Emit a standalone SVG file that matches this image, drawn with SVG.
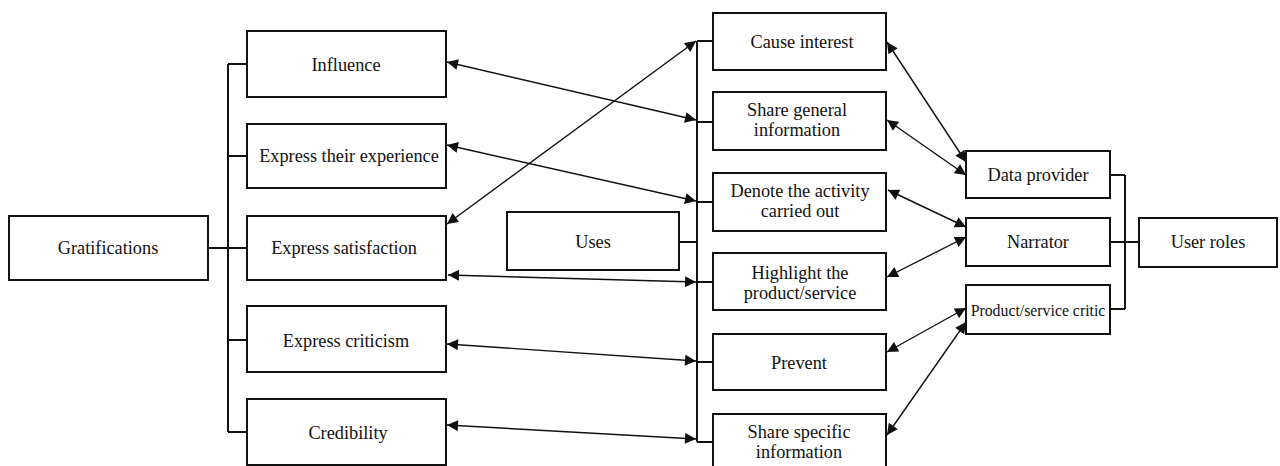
<svg xmlns="http://www.w3.org/2000/svg" width="1280" height="466" viewBox="0 0 1280 466">
<defs>
<style>
.box{fill:#fff;stroke:#111;stroke-width:2}
.t{font-family:"Liberation Serif","Times New Roman",serif;font-size:18.3px;fill:#111;text-anchor:middle;dominant-baseline:central}
.s{font-size:15.8px}
.tree{fill:none;stroke:#111;stroke-width:2}
.arr{fill:none;stroke:#111;stroke-width:1.4;marker-start:url(#ah);marker-end:url(#ah)}
</style>
<marker id="ah" viewBox="0 0 10 10" refX="10" refY="5" markerWidth="14" markerHeight="11" markerUnits="userSpaceOnUse" orient="auto-start-reverse">
<path d="M0,0 L10,5 L0,10 Z" fill="#111"/>
</marker>
</defs>
<rect width="1280" height="466" fill="#fff"/>
<g id="connectors">
<path class="tree" d="M208,248 H228 M228,64 V432 M228,64 H247 M228,156 H247 M228,248 H247 M228,340 H247 M228,432 H247"/>
<path class="tree" d="M679,242 H697 M697,41 V442 M697,41 H713 M697,122 H713 M697,202 H713 M697,282 H713 M697,362 H713 M697,442 H713"/>
<path class="tree" d="M1110,175 H1125 M1110,309 H1125 M1125,175 V309 M1110,242 H1139"/>
<line class="arr" x1="447" y1="62" x2="696" y2="120"/>
<line class="arr" x1="447" y1="145" x2="696" y2="201"/>
<line class="arr" x1="447" y1="224" x2="696" y2="41"/>
<line class="arr" x1="448" y1="275" x2="696" y2="282"/>
<line class="arr" x1="447" y1="344" x2="696" y2="361"/>
<line class="arr" x1="447" y1="425" x2="696" y2="439"/>
<line class="arr" x1="887" y1="42" x2="966" y2="162"/>
<line class="arr" x1="887" y1="120" x2="966" y2="175"/>
<line class="arr" x1="888" y1="190" x2="966" y2="227"/>
<line class="arr" x1="887" y1="277" x2="966" y2="237"/>
<line class="arr" x1="887" y1="352" x2="966" y2="308"/>
<line class="arr" x1="887" y1="435" x2="966" y2="322"/>
</g>
<g id="gratifications"><rect class="box" x="9" y="216" width="199" height="64"/><text class="t" x="108" y="248">Gratifications</text></g>
<g id="influence"><rect class="box" x="247" y="31" width="199" height="66"/><text class="t" x="346" y="65">Influence</text></g>
<g id="express-experience"><rect class="box" x="247" y="124" width="199" height="64"/><text class="t" x="349" y="156">Express their experience</text></g>
<g id="express-satisfaction"><rect class="box" x="247" y="216" width="199" height="64"/><text class="t" x="344" y="248">Express satisfaction</text></g>
<g id="express-criticism"><rect class="box" x="247" y="306" width="199" height="66"/><text class="t" x="346" y="341">Express criticism</text></g>
<g id="credibility"><rect class="box" x="247" y="399" width="199" height="66"/><text class="t" x="348" y="433">Credibility</text></g>
<g id="uses"><rect class="box" x="507" y="212" width="172" height="58"/><text class="t" x="593" y="242">Uses</text></g>
<g id="cause-interest"><rect class="box" x="713" y="13" width="173" height="57"/><text class="t" x="802" y="42">Cause interest</text></g>
<g id="share-general"><rect class="box" x="713" y="92" width="173" height="58"/><text class="t" x="797" y="110">Share general</text><text class="t" x="797" y="130">information</text></g>
<g id="denote"><rect class="box" x="713" y="173" width="173" height="58"/><text class="t" x="800" y="191">Denote the activity</text><text class="t" x="800" y="211">carried out</text></g>
<g id="highlight"><rect class="box" x="713" y="253" width="173" height="57"/><text class="t" x="800" y="273">Highlight the</text><text class="t" x="800" y="293">product/service</text></g>
<g id="prevent"><rect class="box" x="713" y="334" width="173" height="56"/><text class="t" x="799" y="363">Prevent</text></g>
<g id="share-specific"><rect class="box" x="713" y="414" width="173" height="56"/><text class="t" x="799" y="432">Share specific</text><text class="t" x="799" y="452">information</text></g>
<g id="data-provider"><rect class="box" x="966" y="151" width="144" height="47"/><text class="t" x="1038" y="175">Data provider</text></g>
<g id="narrator"><rect class="box" x="966" y="218" width="144" height="48"/><text class="t" x="1038" y="242">Narrator</text></g>
<g id="critic"><rect class="box" x="966" y="285" width="144" height="49"/><text class="t s" x="1038" y="310">Product/service critic</text></g>
<g id="user-roles"><rect class="box" x="1139" y="218" width="138" height="49"/><text class="t" x="1208" y="242">User roles</text></g>
</svg>
